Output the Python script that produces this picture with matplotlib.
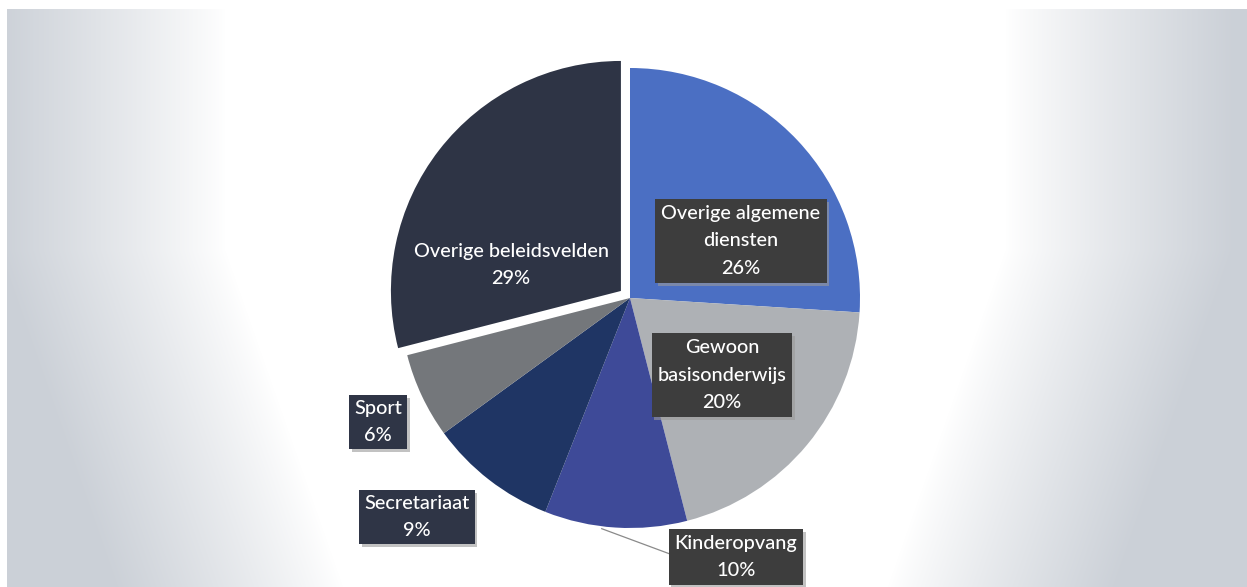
import numpy as np
import matplotlib
matplotlib.use("Agg")
import matplotlib.pyplot as plt

# ---- data ----
labels = ["Overige algemene\ndiensten", "Gewoon\nbasisonderwijs", "Kinderopvang",
          "Secretariaat", "Sport", "Overige beleidsvelden"]
values = [26, 20, 10, 9, 6, 29]
colors = ["#4b6fc3", "#aeb1b5", "#3e4a98", "#1f3564", "#74777b", "#2e3445"]
explode = [0, 0, 0, 0, 0, 0.05]

W, H = 1247, 587
fig = plt.figure(figsize=(W / 100, H / 100), dpi=100)
fig.patch.set_facecolor("white")

# ---- background gradient (decorative) ----
bg = fig.add_axes([0, 0, 1, 1])
bg.set_xlim(0, W)
bg.set_ylim(H, 0)
bg.axis("off")
xx, yy = np.meshgrid(np.arange(W - 7), np.arange(H - 9))
xx = xx + 7
yy = yy + 9
dx = np.abs(xx - 615) / 1.0
dy = np.clip(yy - 250, 0, None)
d = dx + 0.35 * dy
t = np.clip((d - 390) / 230, 0, 1) ** 0.9
c0 = np.array([1.0, 1.0, 1.0])
c1 = np.array([203, 208, 215]) / 255
img = c0[None, None, :] * (1 - t[..., None]) + c1[None, None, :] * t[..., None]
bg.imshow(img, extent=(7, W, H, 9), aspect="auto", interpolation="bilinear", zorder=0)

# ---- pie ----
cx, cy, r = 630, 298, 230
span = 2.2 * r
ax = fig.add_axes([(cx - span / 2) / W, (H - cy - span / 2) / H, span / W, span / H])
ax.axis("off")

wedges, _ = ax.pie(values, colors=colors, startangle=90, counterclock=False,
                   explode=explode, radius=1.0,
                   wedgeprops=dict(linewidth=0))
ax.set_xlim(-1.1, 1.1)
ax.set_ylim(-1.1, 1.1)
ax.set_aspect("equal")

def px(x, y):
    return ((x - cx) / r, (cy - y) / r)

fontkw = dict(family=["Lato", "DejaVu Sans"], fontsize=14.3, color="white",
              ha="center", va="center", linespacing=1.75, fontweight="medium")
grey_box = dict(boxstyle="square,pad=0.3", facecolor="#3d3d3d", edgecolor="none")
navy_box = dict(boxstyle="square,pad=0.25", facecolor="#2f3546", edgecolor="none")

pos = [px(741, 241), px(722, 375), px(736, 557), px(417, 517), px(378, 422), px(511, 265)]
boxes = [grey_box, grey_box, grey_box, navy_box, navy_box, None]

for lab, v, (x, y), b in zip(labels, values, pos, boxes):
    txt = f"{lab}\n{v}%"
    kw = dict(fontkw)
    if b is not None:
        # subtle shadow
        ax.text(x + 0.012, y - 0.012, txt, **kw, alpha=0.0,
                bbox=dict(b, facecolor="#9a9a9a", alpha=0.6), clip_on=False, zorder=4)
        ax.text(x, y, txt, **kw, bbox=b, clip_on=False, zorder=5)
    else:
        ax.text(x, y, txt, **kw, zorder=5)

# leader line for Kinderopvang
w = wedges[2]
mid = np.deg2rad((w.theta1 + w.theta2) / 2)
sx, sy = np.cos(mid) * 1.0, np.sin(mid) * 1.0
ex, ey = px(670, 554)
ax.plot([sx - 0.06, ex], [sy - 0.005, ey], color="#8a8a8a", lw=0.9, zorder=3, clip_on=False)

fig.savefig("out.png", dpi=100)
